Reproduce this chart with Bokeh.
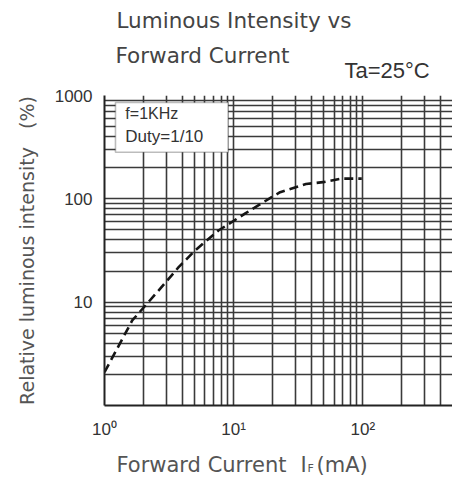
from bokeh.plotting import figure
from bokeh.models import Range1d, FixedTicker, Label, BoxAnnotation
from bokeh.layouts import column
from bokeh.embed import file_html
from bokeh.resources import INLINE

# ---- data ----
current_ma = [1.0, 1.64, 2.63, 3.75, 5.04, 7.63, 12.3, 19.7, 22.9, 36.3, 49.1, 68.9, 98.2]
rel_intensity = [2.1, 6.65, 13.0, 21.8, 31.7, 49.4, 72.2, 104, 116, 139, 145, 157, 157]

x_major = [1, 10, 100]
x_tick_labels = {1: "10\u2070", 10: "10\u00b9", 100: "10\u00b2"}
y_major = [1, 10, 100, 1000]
y_tick_labels = {1: "", 10: "10", 100: "100", 1000: "1000"}
mantissas = [2, 3, 4, 5, 6, 7, 8, 9]

x_minor = [m * d for d in [1, 10, 100] for m in mantissas]
y_minor = [m * d for d in [1, 10, 100] for m in mantissas]

W = 452
LEFT = 104
TOP_H = 87
BOT_H = 37

def text_panel(h):
    f = figure(width=W, height=h, x_range=Range1d(LEFT, W), y_range=Range1d(h, 0),
               x_axis_location=None, y_axis_location=None,
               output_backend="svg", toolbar_location=None,
               min_border_left=LEFT, min_border_right=0,
               min_border_top=0, min_border_bottom=0)
    f.grid.visible = False
    f.outline_line_color = None
    return f

def put(f, x, y, text, size, font="DejaVu Sans", color="#444444"):
    f.add_layout(Label(x=x, y=y, text=text, text_font=font, text_font_size=size,
                       text_color=color, text_baseline="alphabetic"))

# ---- title panel ----
top = text_panel(TOP_H)
put(top, 116, 20, "Luminous Intensity vs", "21.5px")
put(top, 115, 55, "Forward Current", "21.5px")
put(top, 344, 70, "Ta=25\u00b0C", "22px", font="Liberation Sans", color="#333333")

# ---- main chart ----
p = figure(width=W, height=8 + 310 + 38, x_axis_type="log", y_axis_type="log",
           x_range=Range1d(1, 495), y_range=Range1d(1, 1000),
           output_backend="svg", toolbar_location=None,
           min_border_left=LEFT, min_border_top=8, min_border_bottom=38,
           min_border_right=0)
p.outline_line_color = None
p.background_fill_color = "white"

xt = FixedTicker(ticks=x_major, minor_ticks=x_minor)
yt = FixedTicker(ticks=y_major, minor_ticks=y_minor)
p.xaxis.ticker = xt
p.yaxis.ticker = yt
p.xgrid.ticker = xt
p.ygrid.ticker = yt

grid_col = "#3a3a3a"
for g in (p.xgrid, p.ygrid):
    g.grid_line_color = grid_col
    g.grid_line_width = 1.6
    g.minor_grid_line_color = grid_col
    g.minor_grid_line_width = 1.6

for ax in (p.xaxis, p.yaxis):
    ax.axis_line_color = "#222222"
    ax.axis_line_width = 2
    ax.major_tick_line_color = None
    ax.minor_tick_line_color = None
    ax.major_label_text_font = "Liberation Sans"
    ax.major_label_text_font_size = "17px"
    ax.major_label_text_color = "#333333"
p.xaxis.major_label_standoff = 8
p.yaxis.major_label_standoff = 6

p.xaxis.major_label_overrides = x_tick_labels
p.yaxis.major_label_overrides = y_tick_labels

p.yaxis.axis_label = "Relative luminous intensity\u00a0\u00a0\u00a0(%)"
p.yaxis.axis_label_text_font = "DejaVu Sans"
p.yaxis.axis_label_text_font_size = "19px"
p.yaxis.axis_label_text_font_style = "normal"
p.yaxis.axis_label_text_color = "#555555"
p.yaxis.axis_label_standoff = 14

p.line(current_ma, rel_intensity, line_dash="9 5", line_width=2.6, line_color="#151515")

# condition box
p.add_layout(BoxAnnotation(left=1.216, right=9.06, bottom=282, top=855,
                           fill_color="white", fill_alpha=1.0,
                           line_color="#222222", line_width=1.6, level="overlay"))
p.add_layout(Label(x=1.45, y=550, text="f=1KHz", text_font="Liberation Sans",
                   text_font_size="16px", text_color="#333333", level="overlay"))
p.add_layout(Label(x=1.45, y=322, text="Duty=1/10", text_font="Liberation Sans",
                   text_font_size="17px", text_color="#333333", level="overlay"))

# ---- x-axis title panel ----
bot = text_panel(BOT_H)
put(bot, 116, 21, "Forward Current", "21px", color="#555555")
put(bot, 300, 21, "I", "21px", color="#555555")
put(bot, 307, 25, "F", "11px", color="#555555")
put(bot, 316, 21, "(mA)", "21px", color="#555555")

layout = column(top, p, bot, spacing=0)
open("out.html", "w").write(file_html(layout, INLINE))
